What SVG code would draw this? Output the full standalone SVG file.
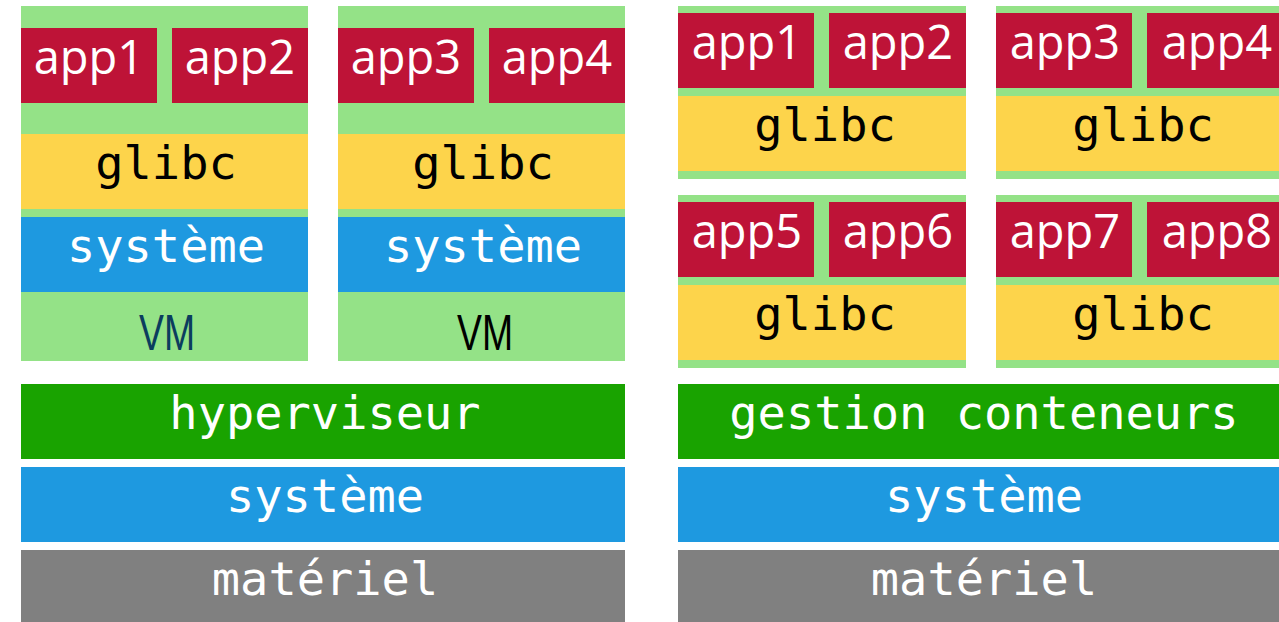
<svg xmlns="http://www.w3.org/2000/svg" width="1279" height="622" viewBox="0 0 1279 622">
<style>
.bg{fill:#94e287}
.app{fill:#be1337}
.lib{fill:#fdd44b}
.sys{fill:#1e99e0}
.hyp{fill:#19a300}
.hw{fill:#808080}
.ta{font-family:"Open Sans","Noto Sans",sans-serif;font-size:47px;fill:#fff;text-anchor:middle}
.tm{font-family:"DejaVu Sans Mono","Liberation Mono",monospace;font-size:47px;text-anchor:middle}
.w{fill:#fff}
.k{fill:#000}
.tv{font-family:"Liberation Sans",Arial,sans-serif;font-size:50px;text-anchor:middle}
</style>
<rect width="1279" height="622" fill="#fff"/>
<g id="vm1">
<rect class="bg" x="21" y="6" width="287" height="355"/>
<rect class="app" x="21" y="28" width="136" height="75"/>
<rect class="app" x="172" y="28" width="136" height="75"/>
<rect class="lib" x="21" y="134" width="287" height="75"/>
<rect class="sys" x="21" y="217" width="287" height="75"/>
<text class="ta" x="89" y="74">app1</text>
<text class="ta" x="240" y="74">app2</text>
<text class="tm k" x="166" y="179">glibc</text>
<text class="tm w" x="166" y="262">système</text>
<text class="tv" x="167" y="350" fill="#0b3d5e" textLength="56" lengthAdjust="spacingAndGlyphs">VM</text>
</g>
<g id="vm2">
<rect class="bg" x="338" y="6" width="287" height="355"/>
<rect class="app" x="338" y="28" width="136" height="75"/>
<rect class="app" x="489" y="28" width="136" height="75"/>
<rect class="lib" x="338" y="134" width="287" height="75"/>
<rect class="sys" x="338" y="217" width="287" height="75"/>
<text class="ta" x="406" y="74">app3</text>
<text class="ta" x="557" y="74">app4</text>
<text class="tm k" x="483" y="179">glibc</text>
<text class="tm w" x="483" y="262">système</text>
<text class="tv" x="485" y="350" fill="#000" textLength="56" lengthAdjust="spacingAndGlyphs">VM</text>
</g>
<g id="hyperviseur">
<rect class="hyp" x="21" y="384" width="604" height="75"/>
<text class="tm w" x="325" y="429">hyperviseur</text>
</g>
<g id="systeme-left">
<rect class="sys" x="21" y="467" width="604" height="75"/>
<text class="tm w" x="325" y="512">système</text>
</g>
<g id="materiel-left">
<rect class="hw" x="21" y="550" width="604" height="80"/>
<text class="tm w" x="325" y="595">matériel</text>
</g>
<g id="container1">
<rect class="bg" x="678" y="6" width="288" height="173"/>
<rect class="app" x="678" y="13" width="136" height="75"/>
<rect class="app" x="829" y="13" width="137" height="75"/>
<rect class="lib" x="678" y="96" width="288" height="75"/>
<text class="ta" x="747" y="59">app1</text>
<text class="ta" x="898" y="59">app2</text>
<text class="tm k" x="825" y="141">glibc</text>
</g>
<g id="container2">
<rect class="bg" x="996" y="6" width="288" height="173"/>
<rect class="app" x="996" y="13" width="136" height="75"/>
<rect class="app" x="1147" y="13" width="137" height="75"/>
<rect class="lib" x="996" y="96" width="288" height="75"/>
<text class="ta" x="1065" y="59">app3</text>
<text class="ta" x="1217" y="59">app4</text>
<text class="tm k" x="1143" y="141">glibc</text>
</g>
<g id="container3">
<rect class="bg" x="678" y="195" width="288" height="173"/>
<rect class="app" x="678" y="202" width="136" height="75"/>
<rect class="app" x="829" y="202" width="137" height="75"/>
<rect class="lib" x="678" y="285" width="288" height="75"/>
<text class="ta" x="747" y="248">app5</text>
<text class="ta" x="898" y="248">app6</text>
<text class="tm k" x="825" y="330">glibc</text>
</g>
<g id="container4">
<rect class="bg" x="996" y="195" width="288" height="173"/>
<rect class="app" x="996" y="202" width="136" height="75"/>
<rect class="app" x="1147" y="202" width="137" height="75"/>
<rect class="lib" x="996" y="285" width="288" height="75"/>
<text class="ta" x="1065" y="248">app7</text>
<text class="ta" x="1217" y="248">app8</text>
<text class="tm k" x="1143" y="330">glibc</text>
</g>
<g id="gestion-conteneurs">
<rect class="hyp" x="678" y="384" width="610" height="75"/>
<text class="tm w" x="984" y="429">gestion conteneurs</text>
</g>
<g id="systeme-right">
<rect class="sys" x="678" y="467" width="610" height="75"/>
<text class="tm w" x="984" y="512">système</text>
</g>
<g id="materiel-right">
<rect class="hw" x="678" y="550" width="610" height="80"/>
<text class="tm w" x="984" y="595">matériel</text>
</g>
<g id="connectors"/>
</svg>
